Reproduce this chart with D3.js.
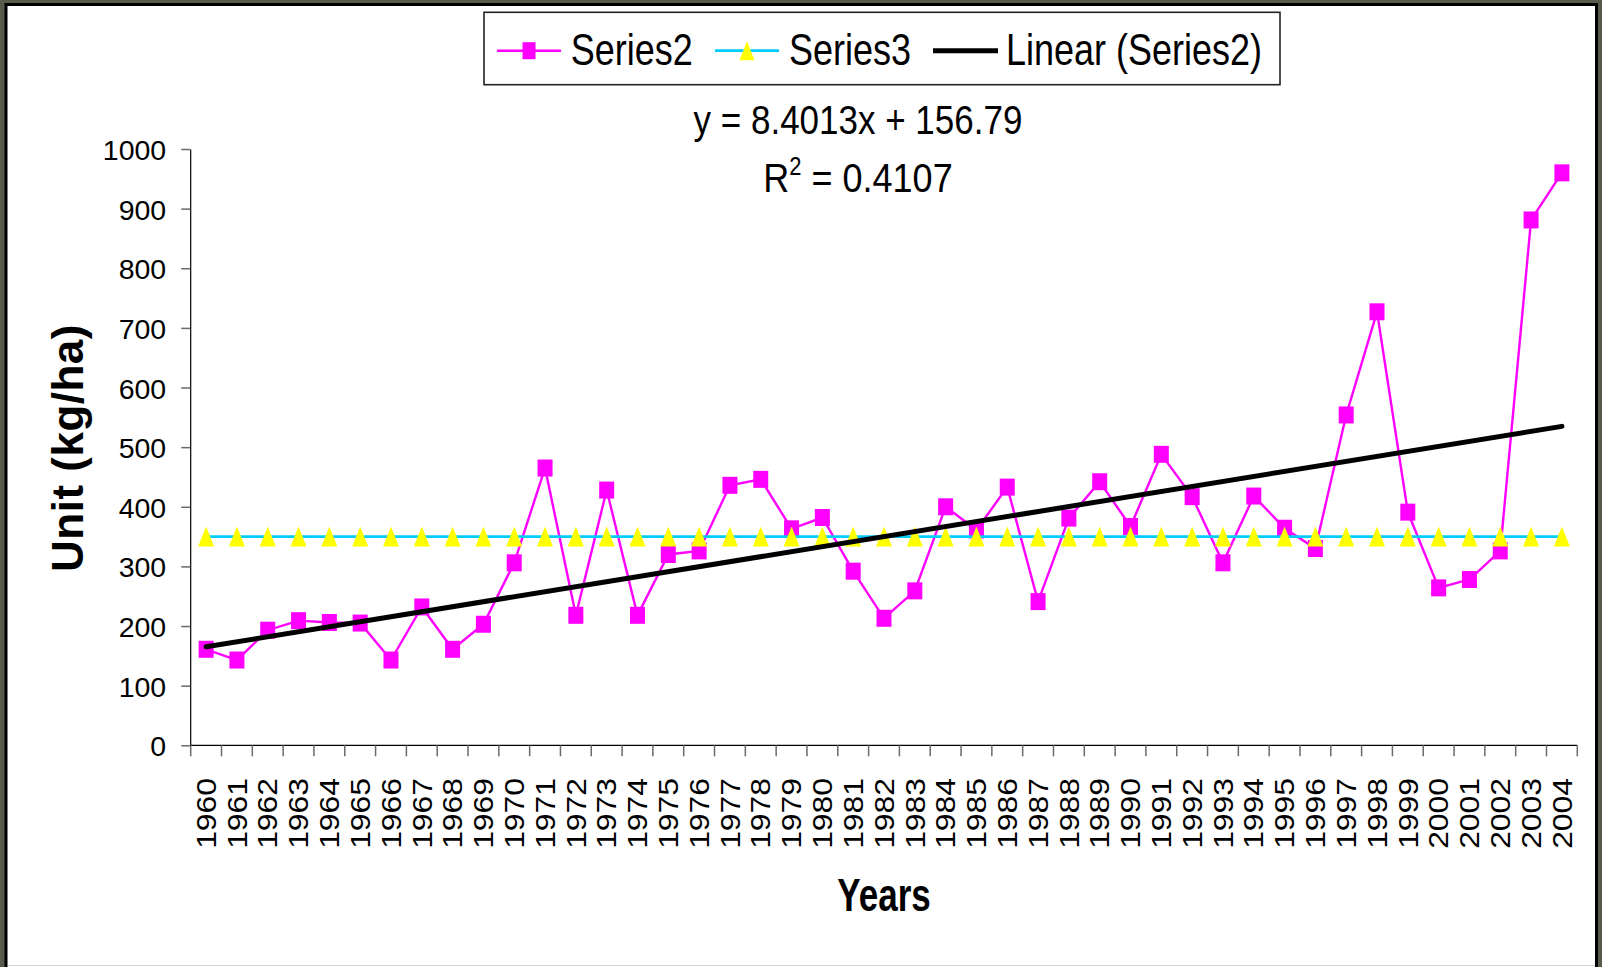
<!DOCTYPE html>
<html>
<head>
<meta charset="utf-8">
<script src="https://cdn.jsdelivr.net/npm/d3@7"></script>
<style>
  body { margin: 0; background: #585a4c; overflow: hidden; }
  svg { display: block; }
  text { font-family: "Liberation Sans", Arial, sans-serif; fill: #000; }
</style>
</head>
<body>
<svg id="chart"></svg>
<script>
// data
const years = ["1960","1961","1962","1963","1964","1965","1966","1967","1968","1969",
               "1970","1971","1972","1973","1974","1975","1976","1977","1978","1979",
               "1980","1981","1982","1983","1984","1985","1986","1987","1988","1989",
               "1990","1991","1992","1993","1994","1995","1996","1997","1998","1999",
               "2000","2001","2002","2003","2004"];
const series2 = [161,143,193,209,206,205,143,232,161,203,
                 306,465,218,428,218,320,326,436,446,363,
                 382,292,213,259,400,361,433,241,381,442,
                 367,488,417,306,418,364,330,554,727,391,
                 264,278,326,881,960];
const series3 = [350,350,350,350,350,350,350,350,350,350,
                 350,350,350,350,350,350,350,350,350,350,
                 350,350,350,350,350,350,350,350,350,350,
                 350,350,350,350,350,350,350,350,350,350,
                 350,350,350,350,350];
const yTicks = [0,100,200,300,400,500,600,700,800,900,1000];
const trendSlope = 8.4013;
const trendIntercept = 156.79;
const legendLabels = ["Series2", "Series3", "Linear (Series2)"];
const equationText = "y = 8.4013x + 156.79";
const r2Text = "0.4107";

const width = 1602;
const height = 967;
const svg = d3.select("#chart")
              .attr("width", width)
              .attr("height", height);

// frame
svg.append("rect").attr("x", 7).attr("y", 5).attr("width", 1589).attr("height", 962).attr("fill", "#fff");
svg.append("path").attr("d", "M6,967V4.5H1596.5V967").attr("fill", "none").attr("stroke", "#000").attr("stroke-width", 3);
svg.append("line").attr("x1", 8).attr("x2", 1595).attr("y1", 965.5).attr("y2", 965.5).attr("stroke", "#d0d0d0");

const margin = {top: 149, right: 1577.3, bottom: 745.3, left: 190.7};

const x = d3.scaleBand()
            .domain(years)
            .range([margin.left, margin.right])
            .padding(0);
const y = d3.scaleLinear()
            .domain([0, 1000])
            .range([margin.bottom, margin.top]);
const cx = d => x(d) + x.bandwidth() / 2;

// y axis
const yAxis = svg.append("g")
                 .attr("transform", `translate(${margin.left - 0.5},0)`)
                 .call(d3.axisLeft(y).tickValues(yTicks).tickFormat(d3.format("d"))
                         .tickSize(9).tickSizeOuter(0).tickPadding(15));
yAxis.select(".domain").attr("stroke", "#000").attr("stroke-width", 1.2);
yAxis.selectAll(".tick line").attr("stroke", "#6a6a6a").attr("stroke-width", 1.5);
yAxis.selectAll(".tick text")
     .attr("font-size", 28.5)
     .attr("font-family", "Liberation Sans, Arial, sans-serif")
     .attr("fill", "#000")
     .attr("dy", "0.37em");

// x axis
svg.append("line")
   .attr("x1", margin.left).attr("x2", margin.right)
   .attr("y1", margin.bottom).attr("y2", margin.bottom)
   .attr("stroke", "#000").attr("stroke-width", 1.2);
const edges = years.map(d => x(d)).concat([x.range()[1]]);
svg.append("g").selectAll("line")
   .data(edges)
   .enter().append("line")
     .attr("x1", d => d).attr("x2", d => d)
     .attr("y1", margin.bottom).attr("y2", margin.bottom + 11)
     .attr("stroke", "#6a6a6a").attr("stroke-width", 1.5);
svg.append("g").selectAll("text")
   .data(years)
   .enter().append("text")
     .attr("transform", d => `translate(${cx(d)},778) rotate(-90) scale(1.18,1)`)
     .attr("text-anchor", "end")
     .attr("dy", "0.36em")
     .attr("font-size", 27)
     .text(d => d);

// axis titles
svg.append("text")
   .attr("transform", "translate(83,448) rotate(-90)")
   .attr("text-anchor", "middle")
   .attr("font-weight", "bold")
   .attr("font-size", 44)
   .attr("letter-spacing", 0.5)
   .text("Unit (kg/ha)");
svg.append("text")
   .attr("transform", "translate(884,911) scale(1,1.3)")
   .attr("text-anchor", "middle")
   .attr("font-weight", "bold")
   .attr("font-size", 35)
   .text("Years");

// marker shapes
function squarePath(w, h) { return `M${-w/2},${-h/2}h${w}v${h}h${-w}Z`; }
function trianglePath(w, h) { return `M0,${-h/2}L${w/2},${h/2}L${-w/2},${h/2}Z`; }

// Series2
const line2 = d3.line().x((d, i) => cx(years[i])).y(d => y(d));
svg.append("path")
   .datum(series2)
   .attr("fill", "none")
   .attr("stroke", "#ff00ff")
   .attr("stroke-width", 2.4)
   .attr("d", line2);
svg.append("g").selectAll("path")
   .data(series2)
   .enter().append("path")
     .attr("transform", (d, i) => `translate(${cx(years[i])},${y(d)})`)
     .attr("d", squarePath(15, 17))
     .attr("fill", "#ff00ff");

// Series3
svg.append("path")
   .datum(series3)
   .attr("fill", "none")
   .attr("stroke", "#00ccff")
   .attr("stroke-width", 2.8)
   .attr("d", line2);
svg.append("g").selectAll("path")
   .data(series3)
   .enter().append("path")
     .attr("transform", (d, i) => `translate(${cx(years[i])},${y(d)})`)
     .attr("d", trianglePath(16, 20))
     .attr("fill", "#ffff00");

// Linear (Series2) trend line
const trend = [1, years.length].map(n => ({year: years[n - 1], v: trendSlope * n + trendIntercept}));
svg.append("path")
   .datum(trend)
   .attr("fill", "none")
   .attr("stroke", "#000")
   .attr("stroke-width", 5)
   .attr("stroke-linecap", "round")
   .attr("d", d3.line().x(d => cx(d.year)).y(d => y(d.v)));

// trend label
svg.append("text")
   .attr("transform", "translate(858,134.3) scale(1,1.15)")
   .attr("text-anchor", "middle")
   .attr("font-size", 35)
   .text(equationText);
const r2 = svg.append("text")
   .attr("transform", "translate(858,191.7) scale(1,1.15)")
   .attr("text-anchor", "middle")
   .attr("font-size", 36);
r2.append("tspan").text("R");
r2.append("tspan").attr("font-size", 22).attr("dy", -14.5).text("2");
r2.append("tspan").attr("dy", 14.5).text(" = " + r2Text);

// legend
const legend = svg.append("g");
legend.append("rect")
      .attr("x", 484).attr("y", 12.3).attr("width", 796).attr("height", 72.4)
      .attr("fill", "#fff").attr("stroke", "#222").attr("stroke-width", 1.6);
const legendItems = [
  {label: legendLabels[0], x0: 497, x1: 561, tx: 570.7, stroke: "#ff00ff", sw: 2.4, marker: squarePath(13, 17), fill: "#ff00ff"},
  {label: legendLabels[1], x0: 715, x1: 779, tx: 789, stroke: "#00ccff", sw: 2.8, marker: trianglePath(15, 19), fill: "#ffff00"},
  {label: legendLabels[2], x0: 933, x1: 998, tx: 1006, stroke: "#000", sw: 5, marker: null, fill: null}
];
const ly = 50.7;
legendItems.forEach(function(item) {
  legend.append("line")
        .attr("x1", item.x0).attr("x2", item.x1)
        .attr("y1", ly).attr("y2", ly)
        .attr("stroke", item.stroke).attr("stroke-width", item.sw);
  if (item.marker) {
    legend.append("path")
          .attr("transform", `translate(${(item.x0 + item.x1) / 2},${ly})`)
          .attr("d", item.marker)
          .attr("fill", item.fill);
  }
  legend.append("text")
        .attr("transform", `translate(${item.tx},64.7) scale(1,1.22)`)
        .attr("font-size", 36)
        .text(item.label);
});
</script>
</body>
</html>
